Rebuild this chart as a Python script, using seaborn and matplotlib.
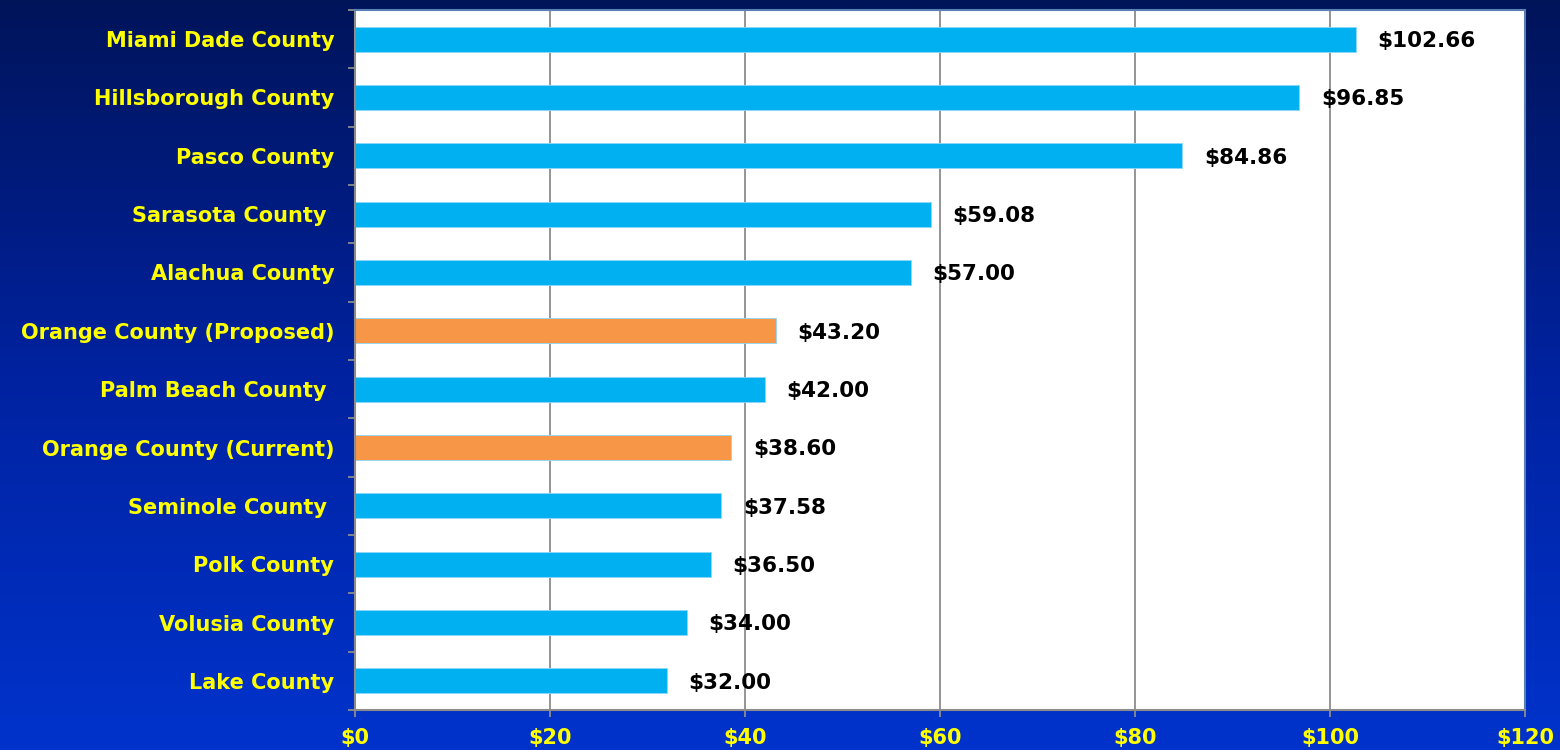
import numpy as np
import pandas as pd
import matplotlib
matplotlib.use("Agg")
import matplotlib.pyplot as plt
import seaborn as sns
from matplotlib.colors import LinearSegmentedColormap

counties = ["Miami Dade County", "Hillsborough County", "Pasco County", "Sarasota County ",
            "Alachua County", "Orange County (Proposed)", "Palm Beach County ",
            "Orange County (Current)", "Seminole County ", "Polk County",
            "Volusia County", "Lake County"]
fees = [102.66, 96.85, 84.86, 59.08, 57.00, 43.20, 42.00, 38.60, 37.58, 36.50, 34.00, 32.00]
value_labels = ["$102.66", "$96.85", "$84.86", "$59.08", "$57.00", "$43.20", "$42.00",
                "$38.60", "$37.58", "$36.50", "$34.00", "$32.00"]
x_ticks = [0, 20, 40, 60, 80, 100, 120]

df = pd.DataFrame({"county": counties, "fee": fees})
colors = ["#F79646" if "Orange" in c else "#00B0F0" for c in counties]

sns.set_style("white")
plt.rcParams["font.family"] = ["DejaVu Sans"]

fig = plt.figure(figsize=(15.6, 7.5), dpi=100)

# gradient background
bg = fig.add_axes([0, 0, 1, 1], zorder=-1)
cmap = LinearSegmentedColormap.from_list("bg", ["#00145A", "#0022A0", "#0033CC"])
bg.imshow(np.linspace(0, 1, 256).reshape(-1, 1), aspect="auto", cmap=cmap,
          extent=[0, 1, 0, 1], origin="upper")
bg.axis("off")

ax = fig.add_axes([0.2276, 0.0533, 0.75, 0.9334])
ax.set_facecolor("white")
sns.barplot(data=df, x="fee", y="county", hue="county", palette=colors, saturation=1,
            legend=False, width=0.43, orient="h", ax=ax, edgecolor="#8ED8F8", linewidth=0.6)

for i, (v, lab) in enumerate(zip(fees, value_labels)):
    ax.text(v + 2.2, i + 0.03, lab, va="center", ha="left", fontsize=15.5,
            fontweight="bold", color="black")

ax.set_xlim(0, 120)
ax.set_ylim(len(counties) - 0.5, -0.5)
ax.set_xticks(x_ticks)
ax.set_xticklabels([f"${t}" for t in x_ticks])
ax.xaxis.grid(True, color="#8C8C8C", linewidth=1.3)
ax.set_axisbelow(True)
ax.set_xlabel("")
ax.set_ylabel("")

ax.set_yticks(range(len(counties)))
ax.set_yticklabels(counties)
ax.set_yticks(np.arange(-0.5, len(counties), 1), minor=True)
ax.tick_params(axis="y", which="major", left=True, length=0, pad=15, labelsize=15,
               labelcolor="#FFFF00")
ax.tick_params(axis="y", which="minor", left=True, length=5, color="#8C8C8C", width=1.3,
               direction="out")
ax.tick_params(axis="x", bottom=True, length=5, color="#8C8C8C", width=1.3, direction="out",
               labelsize=15, labelcolor="#FFFF00", pad=8)
for lab in ax.get_xticklabels() + ax.get_yticklabels():
    lab.set_fontweight("bold")

for s in ax.spines.values():
    s.set_color("#8C8C8C")
    s.set_linewidth(1.5)
ax.spines["right"].set_color("#5A7FB5")
ax.spines["top"].set_color("#5A7FB5")

fig.savefig("out.png", dpi=100)
